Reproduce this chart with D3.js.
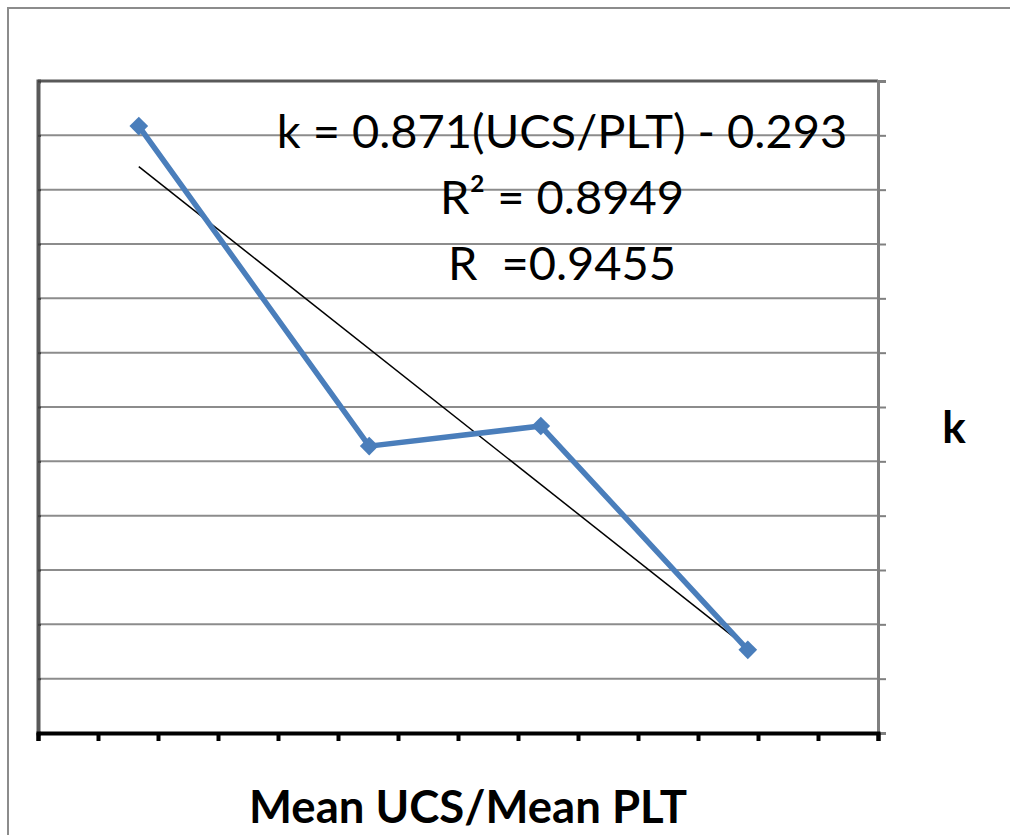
<!DOCTYPE html>
<meta charset="utf-8">
<script src="https://d3js.org/d3.v7.min.js"></script>
<style>
  body { margin: 0; background: #fff; }
  text { font-family: Lato, "Open Sans", sans-serif; white-space: pre; }
</style>
<div id="my_dataviz"></div>
<script>
// data (x in axis units, 14 major intervals; y in gridline units)
var xValues = [1.68, 5.52, 8.38, 11.83];
var kValues = [11.17, 5.28, 5.65, 1.53];
var xTicks = d3.range(0, 15);
var yTicks = d3.range(0, 13);
var equationLines = ["k = 0.871(UCS/PLT) - 0.293", "R² = 0.8949", "R  =0.9455"];

var W = 1010, H = 835;
var margin = {top: 81, right: 132, bottom: 102, left: 38},
    width = W - margin.left - margin.right,
    height = H - margin.top - margin.bottom;

var root = d3.select("#my_dataviz").append("svg")
  .attr("width", W).attr("height", H);

// chart area border
root.append("rect")
  .attr("x", 8).attr("y", 8).attr("width", W).attr("height", H)
  .attr("fill", "none").attr("stroke", "#8c8c8c").attr("stroke-width", 2);

var svg = root.append("g")
  .attr("transform", "translate(" + margin.left + "," + margin.top + ")");

var x = d3.scaleLinear().domain([0, 14]).range([0, width]);
var y = d3.scaleLinear().domain([0, 12]).range([height, 0]);

// gridlines
svg.append("g")
  .selectAll("line")
  .data(yTicks)
  .enter()
  .append("line")
    .attr("x1", 0).attr("x2", width)
    .attr("y1", d => y(d)).attr("y2", d => y(d))
    .attr("stroke", "#8c8c8c").attr("stroke-width", 2);

// top border of plot area
svg.append("line")
  .attr("x1", 0).attr("x2", width).attr("y1", 0).attr("y2", 0)
  .attr("stroke", "#595959").attr("stroke-width", 3);

// right axis (value axis, no labels)
var yAxis = svg.append("g")
  .attr("transform", "translate(" + width + ",0)")
  .call(d3.axisRight(y).tickValues(yTicks).tickSize(8).tickFormat(""));
yAxis.select(".domain").attr("stroke", "#808080").attr("stroke-width", 3);
yAxis.selectAll(".tick line").attr("stroke", "#808080").attr("stroke-width", 2);

// left border with small inner ticks
var yLeft = svg.append("g")
  .call(d3.axisRight(y).tickValues(yTicks).tickSize(3).tickFormat(""));
yLeft.select(".domain").attr("stroke", "#595959").attr("stroke-width", 4);
yLeft.selectAll(".tick line").attr("stroke", "#404040").attr("stroke-width", 2);

// bottom axis
var xAxis = svg.append("g")
  .attr("transform", "translate(0," + height + ")")
  .call(d3.axisBottom(x).tickValues(xTicks).tickSize(8).tickSizeOuter(8).tickFormat(""));
xAxis.select(".domain").attr("stroke", "#000").attr("stroke-width", 4);
xAxis.selectAll(".tick line").attr("stroke", "#000").attr("stroke-width", 4);

// data
var data = xValues.map((v, i) => ({x: v, k: kValues[i]}));

// linear trend line (least squares)
var mx = d3.mean(xValues), my = d3.mean(kValues);
var sxy = d3.sum(data, d => (d.x - mx) * (d.k - my));
var sxx = d3.sum(data, d => (d.x - mx) * (d.x - mx));
var slope = sxy / sxx, icpt = my - slope * mx;
var xMin = d3.min(xValues), xMax = d3.max(xValues);

svg.append("line")
  .attr("x1", x(xMin)).attr("y1", y(slope * xMin + icpt))
  .attr("x2", x(xMax)).attr("y2", y(slope * xMax + icpt))
  .attr("stroke", "#000").attr("stroke-width", 1.5);

// series line
svg.append("path")
  .datum(data)
  .attr("fill", "none")
  .attr("stroke", "#4a7ebb")
  .attr("stroke-width", 5.5)
  .attr("stroke-linejoin", "round")
  .attr("d", d3.line().x(d => x(d.x)).y(d => y(d.k)));

// diamond markers
svg.append("g")
  .selectAll("path")
  .data(data)
  .enter()
  .append("path")
    .attr("d", d3.symbol().type(d3.symbolSquare).size(175))
    .attr("transform", d => "translate(" + x(d.x) + "," + y(d.k) + ") rotate(45)")
    .attr("fill", "#4a7ebb");

// equation text
root.append("g")
  .selectAll("text")
  .data(equationLines)
  .enter()
  .append("text")
    .attr("x", 562)
    .attr("y", (d, i) => 148 + i * 66)
    .attr("text-anchor", "middle")
    .style("font-size", "47px")
    .attr("fill", "#000")
    .text(d => d);

// axis titles
root.append("text")
  .attr("x", 468).attr("y", 823)
  .attr("text-anchor", "middle")
  .style("font-size", "45.5px").style("font-weight", "bold")
  .text("Mean UCS/Mean PLT");

root.append("text")
  .attr("x", 954).attr("y", 443)
  .attr("text-anchor", "middle")
  .style("font-size", "44px").style("font-weight", "bold")
  .text("k");
</script>
